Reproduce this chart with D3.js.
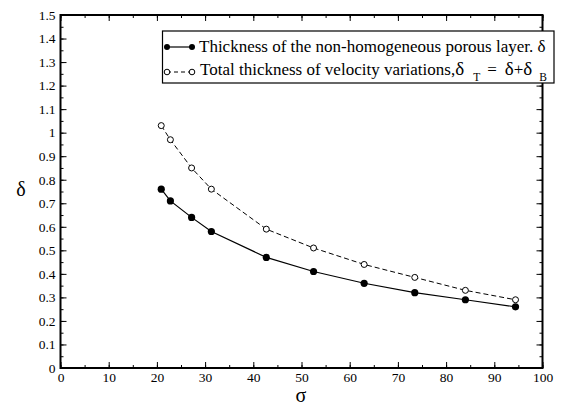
<!DOCTYPE html>
<html><head><meta charset="utf-8">
<script src="https://cdn.jsdelivr.net/npm/d3@7"></script>
<style>body{margin:0;background:#fff}svg{display:block}</style>
</head><body><div id="c"></div>
<script>
const sigma = [20.9, 22.8, 27.2, 31.3, 42.7, 52.5, 63.0, 73.5, 84.0, 94.4];
const deltaPorous = [0.76, 0.71, 0.64, 0.58, 0.47, 0.41, 0.36, 0.32, 0.29, 0.26];
const deltaTotal = [1.03, 0.97, 0.85, 0.76, 0.59, 0.51, 0.44, 0.385, 0.33, 0.29];
const xTicks = [0,10,20,30,40,50,60,70,80,90,100];
const yTicks = [0,0.1,0.2,0.3,0.4,0.5,0.6,0.7,0.8,0.9,1,1.1,1.2,1.3,1.4,1.5];
const legendLabels = ["Thickness of the non-homogeneous porous layer. δ", "Total thickness of velocity variations,"];

const FONT = "'Liberation Serif','DejaVu Serif','Times New Roman',Times,serif";
const W=588,H=408, L=60.5, R=542.5, T=15, B=368;
const svg=d3.select("#c").append("svg").attr("width",W).attr("height",H).style("font-family",FONT);
const x=d3.scaleLinear().domain([0,100]).range([L,R]);
const y=d3.scaleLinear().domain([0,1.5]).range([B,T]);

const xMinor=d3.range(0,101,5), yMinor=d3.range(0,1.501,0.05);
// bottom
svg.append("g").attr("transform",`translate(0,${B})`).call(d3.axisBottom(x).tickValues(xMinor).tickSize(-3).tickFormat(""));
svg.append("g").attr("transform",`translate(0,${B})`).call(d3.axisBottom(x).tickValues(xTicks).tickSize(-6).tickPadding(4).tickFormat(d3.format("d")));
// top
svg.append("g").attr("transform",`translate(0,${T})`).call(d3.axisTop(x).tickValues(xMinor).tickSize(-3).tickFormat(""));
svg.append("g").attr("transform",`translate(0,${T})`).call(d3.axisTop(x).tickValues(xTicks).tickSize(-6).tickFormat(""));
// left
svg.append("g").attr("transform",`translate(${L},0)`).call(d3.axisLeft(y).tickValues(yMinor).tickSize(-3).tickFormat(""));
svg.append("g").attr("transform",`translate(${L},0)`).call(d3.axisLeft(y).tickValues(yTicks).tickSize(-6).tickPadding(5).tickFormat(d=>String(+d.toFixed(1))));
// right
svg.append("g").attr("transform",`translate(${R},0)`).call(d3.axisRight(y).tickValues(yMinor).tickSize(-3).tickFormat(""));
svg.append("g").attr("transform",`translate(${R},0)`).call(d3.axisRight(y).tickValues(yTicks).tickSize(-6).tickFormat(""));
svg.selectAll("g").attr("font-family",null);
svg.selectAll(".domain").remove();
svg.selectAll(".tick line").attr("stroke","#000").attr("stroke-width",1);
svg.selectAll(".tick text").attr("font-size",13.5).attr("fill","#000").style("font-family",FONT);
svg.append("rect").attr("x",L).attr("y",T).attr("width",R-L).attr("height",B-T).attr("fill","none").attr("stroke","#000").attr("stroke-width",2);

// axis titles
svg.append("text").attr("x",21).attr("y",196).attr("text-anchor","middle").attr("font-size",20).style("font-family",FONT).text("δ");
svg.append("text").attr("x",301).attr("y",402).attr("text-anchor","middle").attr("font-size",20).style("font-family",FONT).text("σ");

const line=d3.line().x(d=>x(d[0])).y(d=>y(d[1]));
const p1=sigma.map((s,i)=>[s,deltaPorous[i]]);
const p2=sigma.map((s,i)=>[s,deltaTotal[i]]);
svg.append("path").attr("d",line(p2)).attr("fill","none").attr("stroke","#000").attr("stroke-width",1).attr("stroke-dasharray","5,3");
svg.append("path").attr("d",line(p1)).attr("fill","none").attr("stroke","#000").attr("stroke-width",1.2);
svg.selectAll(".o").data(p2).enter().append("circle").attr("cx",d=>x(d[0])).attr("cy",d=>y(d[1])).attr("r",3).attr("fill","#fff").attr("stroke","#000").attr("stroke-width",1);
svg.selectAll(".f").data(p1).enter().append("circle").attr("cx",d=>x(d[0])).attr("cy",d=>y(d[1])).attr("r",3.6).attr("fill","#000");

// legend
const lg=svg.append("g");
lg.append("rect").attr("x",162.5).attr("y",31).attr("width",391.5).attr("height",52).attr("fill","#fff").attr("stroke","#000").attr("stroke-width",1.2);
lg.append("line").attr("x1",167).attr("x2",192).attr("y1",47).attr("y2",47).attr("stroke","#000").attr("stroke-width",1.2);
[167,192].forEach(cx=>lg.append("circle").attr("cx",cx).attr("cy",47).attr("r",3).attr("fill","#000"));
lg.append("line").attr("x1",167).attr("x2",192).attr("y1",72).attr("y2",72).attr("stroke","#000").attr("stroke-width",1).attr("stroke-dasharray","4,3");
[167,192].forEach(cx=>lg.append("circle").attr("cx",cx).attr("cy",72).attr("r",2.8).attr("fill","#fff").attr("stroke","#000"));
lg.append("text").attr("x",199).attr("y",52).attr("font-size",17).style("font-family",FONT).text(legendLabels[0]);
const t2=lg.append("text").attr("x",200).attr("y",75).attr("font-size",17).style("font-family",FONT);
t2.append("tspan").text(legendLabels[1]);
t2.append("tspan").attr("font-size",19).text("δ");
t2.append("tspan").attr("font-size",11.5).attr("dy",6).attr("dx",9).text("T");
t2.append("tspan").attr("dy",-6).attr("dx",7).attr("font-size",17).text("=");
t2.append("tspan").attr("dx",8).attr("font-size",19).text("δ");
t2.append("tspan").attr("font-size",17).text("+");
t2.append("tspan").attr("font-size",19).text("δ");
t2.append("tspan").attr("font-size",11.5).attr("dy",6).attr("dx",7).text("B");
</script></body></html>
